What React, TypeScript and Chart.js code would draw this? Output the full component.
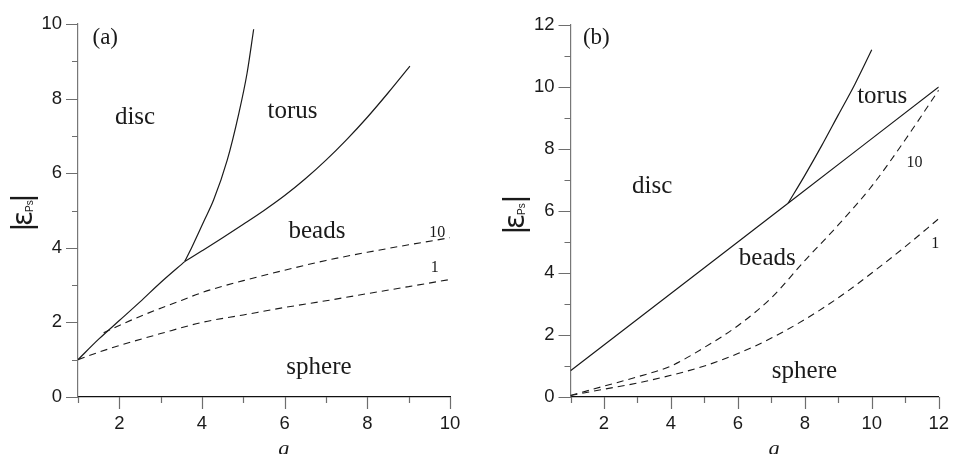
import React, { useEffect, useRef } from 'react';
import { Chart, registerables } from 'chart.js';

Chart.register(...registerables);

// ---- Panel (a): g from 1 to 10 ----
const aDiscBeadsG = [1, 1.5, 2, 2.5, 3, 3.58];
const aDiscBeadsE = [1, 1.55, 2.05, 2.55, 3.07, 3.63];
const aDiscTorusG = [3.58, 3.76, 4.04, 4.28, 4.61, 4.89, 5.09, 5.25];
const aDiscTorusE = [3.63, 4.03, 4.7, 5.28, 6.35, 7.6, 8.68, 9.86];
const aTorusBeadsG = [3.58, 4, 4.5, 5, 5.5, 6, 6.5, 7, 7.5, 8, 8.5, 9.03];
const aTorusBeadsE = [3.63, 3.92, 4.27, 4.63, 5.0, 5.4, 5.85, 6.35, 6.9, 7.5, 8.15, 8.87];
const aSphere10G = [1.62, 2, 2.5, 3, 3.5, 4, 4.5, 5, 6, 7, 8, 9, 10];
const aSphere10E = [1.72, 1.92, 2.16, 2.38, 2.59, 2.8, 2.97, 3.12, 3.4, 3.66, 3.88, 4.08, 4.27];
const aSphere1G = [1, 1.5, 2, 3, 4, 5, 6, 7, 8, 9, 10];
const aSphere1E = [1, 1.2, 1.38, 1.7, 2.0, 2.2, 2.4, 2.58, 2.77, 2.96, 3.15];

// ---- Panel (b): g from 1 to 12 ----
const bDiscBeadsG = [1, 7.5];
const bDiscBeadsE = [0.85, 6.25];
const bTorusBeadsG = [7.5, 12];
const bTorusBeadsE = [6.25, 10];
const bDiscTorusG = [7.5, 8, 8.5, 9, 9.5, 10];
const bDiscTorusE = [6.25, 7.15, 8.1, 9.1, 10.1, 11.2];
const bSphereG = [1, 2, 3, 4, 5, 6, 7, 8, 9, 10, 11, 12];
const bSphere10E = [0.05, 0.35, 0.65, 1.0, 1.6, 2.3, 3.2, 4.4, 5.55, 6.8, 8.3, 9.9];
const bSphere1E = [0.05, 0.25, 0.45, 0.7, 1.0, 1.4, 1.9, 2.5, 3.2, 4.0, 4.85, 5.75];

// Region names and curve tags, placed in (g, |ε|) coordinates
type Note = { text: string; g: number; e: number; size: number };
const aNotes: Note[] = [
  { text: '(a)', g: 1.35, e: 9.46, size: 23 },
  { text: 'disc', g: 2.38, e: 7.32, size: 25 },
  { text: 'torus', g: 6.19, e: 7.48, size: 25 },
  { text: 'beads', g: 6.78, e: 4.26, size: 25 },
  { text: 'sphere', g: 6.83, e: 0.62, size: 25 },
  { text: '10', g: 9.69, e: 4.28, size: 16 },
  { text: '1', g: 9.63, e: 3.36, size: 16 },
];
const bNotes: Note[] = [
  { text: '(b)', g: 1.37, e: 11.4, size: 23 },
  { text: 'disc', g: 3.44, e: 6.58, size: 25 },
  { text: 'torus', g: 10.31, e: 9.49, size: 25 },
  { text: 'beads', g: 6.88, e: 4.26, size: 25 },
  { text: 'sphere', g: 7.99, e: 0.61, size: 25 },
  { text: '10', g: 11.28, e: 7.43, size: 16 },
  { text: '1', g: 11.9, e: 4.81, size: 16 },
];

const SANS = '"Liberation Sans", Arial, sans-serif';
const SERIF = '"Liberation Serif", "Times New Roman", serif';
const INK = '#1a1a1a';
const TICK_GREY = '#6e6e6e';
const MAJOR_TICK = 12;
const MINOR_TICK = 6;

const pts = (gs: number[], es: number[]) => gs.map((g, i) => ({ x: g, y: es[i] }));

const solid = (gs: number[], es: number[]) => ({
  data: pts(gs, es),
  borderColor: INK,
  borderWidth: 1.2,
  pointRadius: 0,
  fill: false,
  cubicInterpolationMode: 'monotone' as const,
});

const dashed = (gs: number[], es: number[]) => ({
  ...solid(gs, es),
  borderWidth: 1.1,
  borderDash: [7, 5],
});

type PanelSpec = {
  width: number;
  xMax: number;
  yMax: number;
  axisWidth: number;
  padTop: number;
  padRight: number;
  datasets: any[];
  notes: Note[];
  epsX: number;
  epsBottom: number;
  epsSpan: number;
};

function drawEpsLabel(ctx: CanvasRenderingContext2D, x: number, yBottom: number, span: number) {
  ctx.save();
  ctx.translate(x + 22, yBottom);
  ctx.rotate(-Math.PI / 2);
  ctx.fillStyle = INK;
  ctx.textBaseline = 'alphabetic';
  ctx.font = `30px ${SANS}`;
  ctx.textAlign = 'center';
  ctx.fillText('|', 0, 0);
  ctx.fillText('|', span, 0);
  ctx.textAlign = 'left';
  ctx.font = '28px "DejaVu Sans", sans-serif';
  ctx.fillText('ε', 1, 0);
  ctx.font = `10px ${SANS}`;
  ctx.fillText('Ps', 15, 1);
  ctx.restore();
}

// Outward tick marks: long at even values, short at odd values
function drawTicks(chart: any) {
  const { ctx, chartArea, scales } = chart;
  ctx.save();
  ctx.strokeStyle = TICK_GREY;
  ctx.lineWidth = 1.2;
  ctx.beginPath();
  for (const t of scales.x.ticks) {
    const px = Math.round(scales.x.getPixelForValue(t.value)) + 0.5;
    const len = Math.round(t.value) % 2 === 0 ? MAJOR_TICK : MINOR_TICK;
    ctx.moveTo(px, chartArea.bottom);
    ctx.lineTo(px, chartArea.bottom + len);
  }
  for (const t of scales.y.ticks) {
    const py = Math.round(scales.y.getPixelForValue(t.value)) + 0.5;
    const len = Math.round(t.value) % 2 === 0 ? MAJOR_TICK : MINOR_TICK;
    ctx.moveTo(chartArea.left, py);
    ctx.lineTo(chartArea.left - len, py);
  }
  ctx.stroke();
  ctx.restore();
}

function makeConfig(spec: PanelSpec): any {
  const evenLabel = (v: any) => (Math.round(Number(v)) % 2 === 0 ? String(v) : '');
  const tickFont = { family: SANS, size: 18.5 };

  const textPlugin = {
    id: 'panelText',
    afterDraw(chart: any) {
      drawTicks(chart);
      const { ctx, chartArea, scales } = chart;
      ctx.save();
      ctx.fillStyle = INK;
      ctx.textBaseline = 'alphabetic';
      for (const n of spec.notes) {
        const px = scales.x.getPixelForValue(n.g);
        const py = scales.y.getPixelForValue(n.e);
        ctx.font = `${n.size}px ${SERIF}`;
        ctx.textAlign = n.text.startsWith('(') ? 'left' : 'center';
        ctx.fillText(n.text, px, py);
      }
      // axis title g
      ctx.font = `italic 22px ${SERIF}`;
      ctx.textAlign = 'center';
      ctx.fillText('g', chartArea.left + 0.553 * (chartArea.right - chartArea.left), 455);
      ctx.restore();
      drawEpsLabel(ctx, spec.epsX, spec.epsBottom, spec.epsSpan);
    },
  };

  const grid = {
    drawOnChartArea: false,
    drawTicks: true,
    tickLength: MAJOR_TICK,
    tickColor: 'rgba(0,0,0,0)',
  };

  return {
    type: 'line',
    data: { datasets: spec.datasets },
    plugins: [textPlugin],
    options: {
      animation: false,
      responsive: false,
      devicePixelRatio: 1,
      layout: { padding: { top: spec.padTop, right: spec.padRight, left: 0, bottom: 0 } },
      plugins: { legend: { display: false }, tooltip: { enabled: false } },
      scales: {
        x: {
          type: 'linear',
          position: 'bottom',
          min: 1,
          max: spec.xMax,
          afterFit: (s: any) => {
            s.height = 57;
          },
          ticks: {
            stepSize: 1,
            autoSkip: false,
            maxRotation: 0,
            padding: 4,
            color: INK,
            font: tickFont,
            callback: evenLabel,
          },
          grid,
          border: { display: true, color: '#111', width: 1.2 },
        },
        y: {
          type: 'linear',
          position: 'left',
          min: 0,
          max: spec.yMax,
          afterFit: (s: any) => {
            s.width = spec.axisWidth;
          },
          ticks: {
            stepSize: 1,
            autoSkip: false,
            padding: 4,
            color: INK,
            font: tickFont,
            callback: evenLabel,
          },
          grid,
          border: { display: true, color: '#777', width: 1.2 },
        },
      },
    },
  };
}

const panelA: PanelSpec = {
  width: 476,
  xMax: 10,
  yMax: 10,
  axisWidth: 78,
  padTop: 24,
  padRight: 26,
  datasets: [
    solid(aDiscBeadsG, aDiscBeadsE),
    solid(aDiscTorusG, aDiscTorusE),
    solid(aTorusBeadsG, aTorusBeadsE),
    dashed(aSphere10G, aSphere10E),
    dashed(aSphere1G, aSphere1E),
  ],
  notes: aNotes,
  epsX: 10,
  epsBottom: 227,
  epsSpan: 29,
};

const panelB: PanelSpec = {
  width: 477,
  xMax: 12,
  yMax: 12,
  axisWidth: 94.5,
  padTop: 25,
  padRight: 11,
  datasets: [
    solid(bDiscBeadsG, bDiscBeadsE),
    solid(bTorusBeadsG, bTorusBeadsE),
    solid(bDiscTorusG, bDiscTorusE),
    dashed(bSphereG, bSphere10E),
    dashed(bSphereG, bSphere1E),
  ],
  notes: bNotes,
  epsX: 26,
  epsBottom: 230,
  epsSpan: 31,
};

function Panel({ spec, left }: { spec: PanelSpec; left: number }) {
  const ref = useRef<HTMLCanvasElement>(null);
  useEffect(() => {
    const chart = new Chart(ref.current as HTMLCanvasElement, makeConfig(spec));
    return () => chart.destroy();
  }, [spec]);
  return (
    <canvas
      ref={ref}
      width={spec.width}
      height={454}
      style={{ position: 'absolute', left, top: 0, width: spec.width, height: 454 }}
    />
  );
}

export default function App() {
  return (
    <div
      style={{
        position: 'absolute',
        left: 0,
        top: 0,
        width: 953,
        height: 454,
        overflow: 'hidden',
        background: '#fff',
      }}
    >
      <Panel spec={panelA} left={0} />
      <Panel spec={panelB} left={476} />
    </div>
  );
}
